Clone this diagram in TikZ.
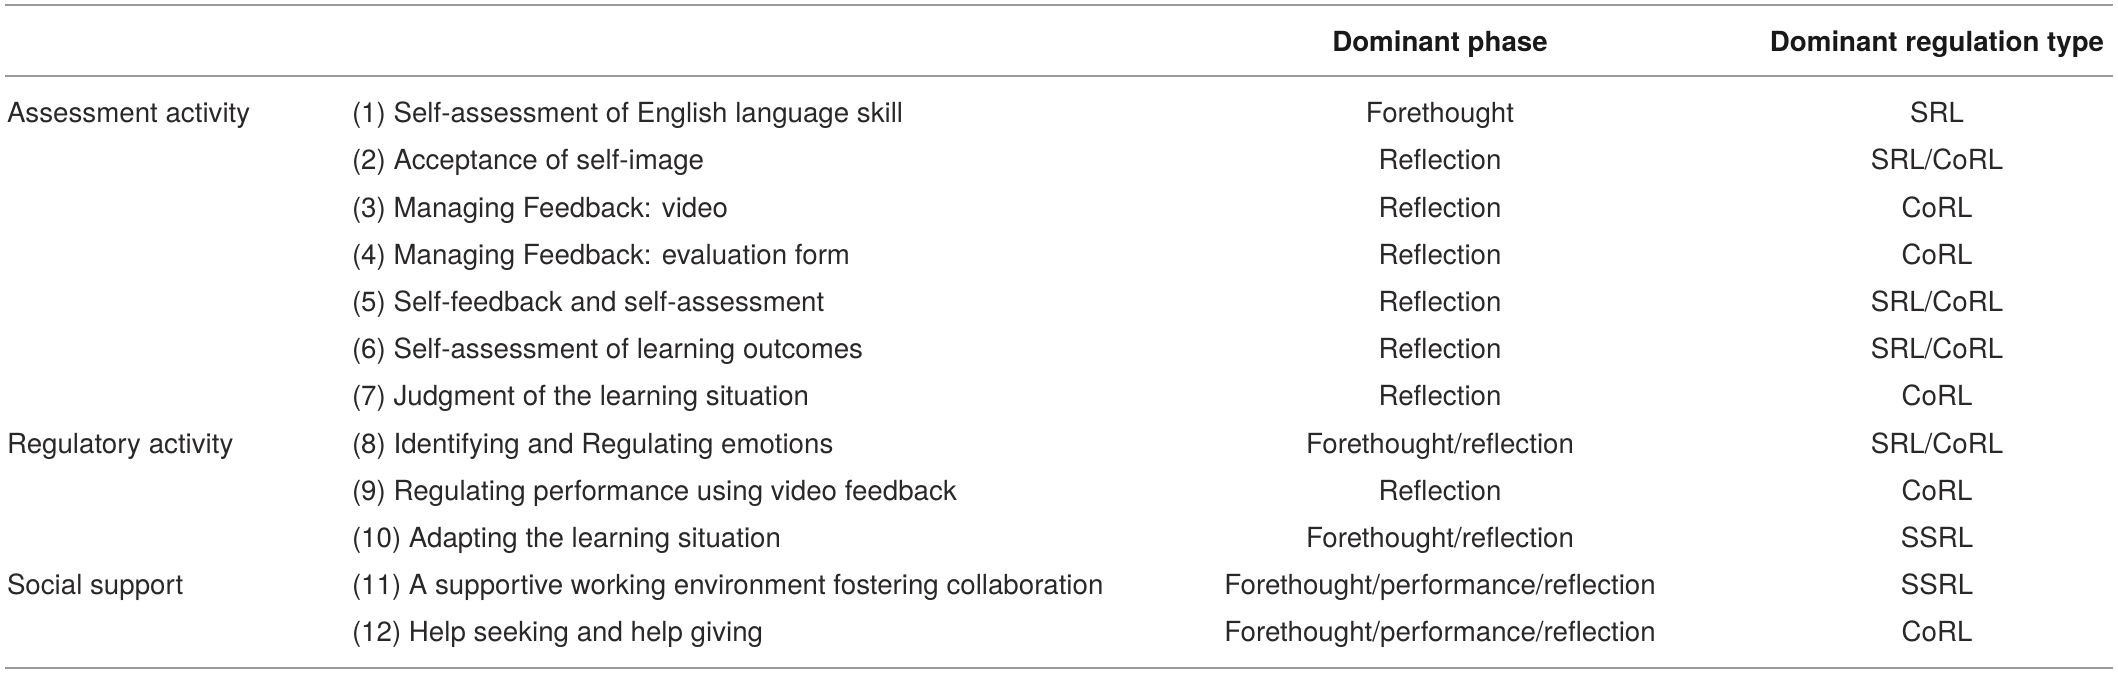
\documentclass[tikz,border=0pt]{standalone}
\usepackage{fontspec}
\setmainfont{TeX Gyre Heros}
\definecolor{txt}{HTML}{2A2728}
\definecolor{rule}{HTML}{9A9A9A}
\newcommand\slsh{/}
\begin{document}
\begin{tikzpicture}[x=1pt,y=-1pt,
  cell/.style={inner sep=0pt, outer sep=0pt, text=txt, font=\fontsize{27.7}{32}\selectfont},
  lcell/.style={cell, anchor=base west},
  ccell/.style={cell, anchor=base},
  hcell/.style={cell, anchor=base, text=black!90, font=\fontsize{27.7}{32}\selectfont\bfseries},
  hrule/.style={draw=rule, line width=2pt}]
\useasboundingbox (0,0) rectangle (2118,674);
% rules
\coordinate (t1) at (5,5);   \coordinate (t2) at (2113,5);
\coordinate (m1) at (5,76.5); \coordinate (m2) at (2113,76.5);
\coordinate (b1) at (5,668); \coordinate (b2) at (2113,668);
\draw[hrule] (t1) -- (t2);
\draw[hrule] (m1) -- (m2);
\draw[hrule] (b1) -- (b2);
% header
\node[hcell] (h3) at (1440,52) {Dominant phase};
\node[hcell] (h4) at (1937,52) {Dominant regulation type};
% body
\foreach \i/\a/\b/\c/\d in {
 1/Assessment activity/(1) Self-assessment of English language skill/Forethought/SRL,
 2//(2) Acceptance of self-image/Reflection/SRL\slsh CoRL,
 3//(3) Managing Feedback: video/Reflection/CoRL,
 4//(4) Managing Feedback: evaluation form/Reflection/CoRL,
 5//(5) Self-feedback and self-assessment/Reflection/SRL\slsh CoRL,
 6//(6) Self-assessment of learning outcomes/Reflection/SRL\slsh CoRL,
 7//(7) Judgment of the learning situation/Reflection/CoRL,
 8/Regulatory activity/(8) Identifying and Regulating emotions/Forethought\slsh reflection/SRL\slsh CoRL,
 9//(9) Regulating performance using video feedback/Reflection/CoRL,
 10//(10) Adapting the learning situation/Forethought\slsh reflection/SSRL,
 11/Social support/(11) A supportive working environment fostering collaboration/Forethought\slsh performance\slsh reflection/SSRL,
 12//(12) Help seeking and help giving/Forethought\slsh performance\slsh reflection/CoRL}{
  \pgfmathsetmacro{\yy}{122.6+47.2*(\i-1)}
  \node[lcell] (a\i) at (7,\yy) {\a};
  \node[lcell] (b\i) at (352,\yy) {\b};
  \node[ccell] (c\i) at (1440,\yy) {\c};
  \node[ccell] (d\i) at (1937,\yy) {\d};
}
\end{tikzpicture}
\end{document}
